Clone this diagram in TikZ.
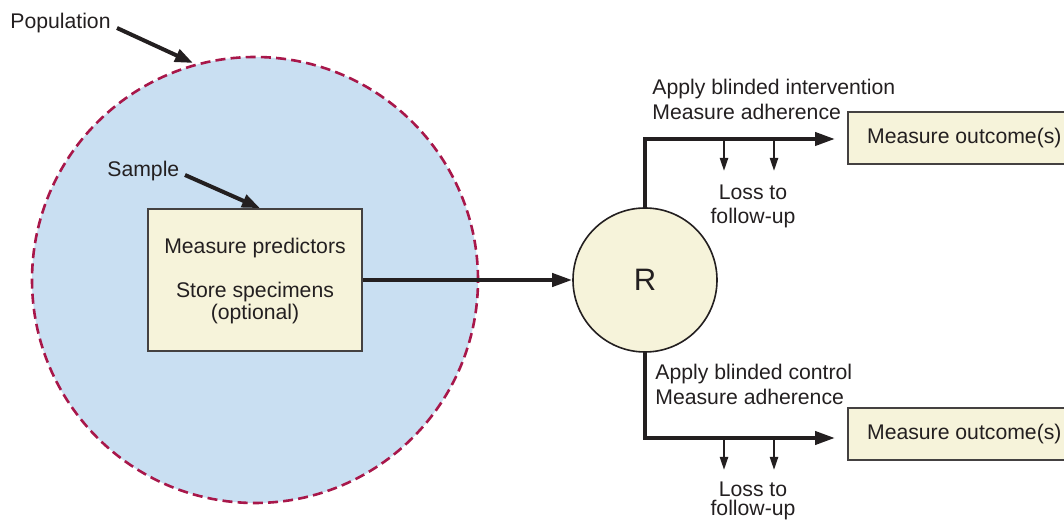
\documentclass[tikz,border=0pt]{standalone}
\usepackage{fontspec}
\setmainfont{Liberation Sans}
\usetikzlibrary{arrows.meta}
\definecolor{popblue}{HTML}{C9DFF2}
\definecolor{popred}{HTML}{A8174A}
\definecolor{boxfill}{HTML}{F6F3DA}
\definecolor{ink}{HTML}{231F20}
\begin{document}
\begin{tikzpicture}[x=0.5pt,y=-0.5pt,
  font=\fontsize{10.6}{11}\selectfont,
  txt/.style={inner sep=0pt, text=ink},
  popcirc/.style={circle, draw=popred, fill=popblue, line width=1.3pt, dash pattern=on 5pt off 2.6pt, inner sep=0pt, minimum size=223pt},
  box/.style={draw=ink!85, fill=boxfill, line width=0.8pt, inner sep=0pt, text=ink},
  rcirc/.style={circle, draw=ink, fill=boxfill, line width=0.8pt, inner sep=0pt, minimum size=72pt, text=ink},
  main/.style={draw=ink, line width=2pt, -{Triangle[length=10pt,width=6.5pt]}},
  trunk/.style={draw=ink, line width=2pt},
  lab/.style={draw=ink, line width=2pt, -{Triangle[length=9pt,width=6.5pt]}},
  loss/.style={draw=ink, line width=1.1pt, -{Triangle[length=6.5pt,width=4pt]}}
]
\useasboundingbox (0,0) rectangle (1064,522);
\clip (0,0) rectangle (1064,522);

% population circle
\node[popcirc] (pop) at (255,280) {};
\node[txt, anchor=base west] (poplab) at (10,29) {Population};
\coordinate (popStart) at (117,28);
\coordinate (popTip) at (193,63);
\draw[lab] (popStart) -- (popTip);

% sample box
\node[box, minimum width=107pt, minimum height=71pt] (samp) at (255,280) {};
\node[txt, anchor=base] (mp) at (255,254) {Measure predictors};
\node[txt, anchor=base] (ss) at (255,298) {Store specimens};
\node[txt, anchor=base] (op) at (255,320) {(optional)};
\node[txt, anchor=base west] (samplab) at (107,177) {Sample};
\coordinate (sampStart) at (185,175);
\draw[lab] (sampStart) -- ([xshift=2.5pt]samp.north);

% randomisation
\node[rcirc] (R) at (645,280) {\fontsize{15.5}{16}\selectfont R};
\draw[main] (samp.east) -- (R.west);

% outcome boxes
\node[box, anchor=west, minimum width=116.5pt, minimum height=26pt] (outTop) at (847,138) {Measure outcome(s)};
\node[box, anchor=west, minimum width=116.5pt, minimum height=26pt] (outBot) at (847,434) {Measure outcome(s)};

% top branch
\coordinate (tc) at (645,139);
\coordinate (tEnd) at (835,139);
\draw[trunk] (R.north) -- (tc);
\draw[main] ([xshift=-1pt]tc) -- (tEnd);
\coordinate (tl1) at (724,139);
\coordinate (tl1e) at (724,171);
\coordinate (tl2) at (774,139);
\coordinate (tl2e) at (774,171);
\draw[loss] (tl1) -- (tl1e);
\draw[loss] (tl2) -- (tl2e);
\node[txt, anchor=base west] (ai) at (652,95) {Apply blinded intervention};
\node[txt, anchor=base west] (ma1) at (652,120) {Measure adherence};
\node[txt, anchor=base] (lt1) at (753,200) {Loss to};
\node[txt, anchor=base] (fu1) at (753,224) {follow-up};

% bottom branch
\coordinate (bc) at (645,438);
\coordinate (bEnd) at (835,438);
\draw[trunk] (R.south) -- (bc);
\draw[main] ([xshift=-1pt]bc) -- (bEnd);
\coordinate (bl1) at (724,438);
\coordinate (bl1e) at (724,470);
\coordinate (bl2) at (774,438);
\coordinate (bl2e) at (774,470);
\draw[loss] (bl1) -- (bl1e);
\draw[loss] (bl2) -- (bl2e);
\node[txt, anchor=base west] (ac) at (655,380) {Apply blinded control};
\node[txt, anchor=base west] (ma2) at (655,405) {Measure adherence};
\node[txt, anchor=base] (lt2) at (753,497) {Loss to};
\node[txt, anchor=base] (fu2) at (753,516) {follow-up};
\end{tikzpicture}
\end{document}
